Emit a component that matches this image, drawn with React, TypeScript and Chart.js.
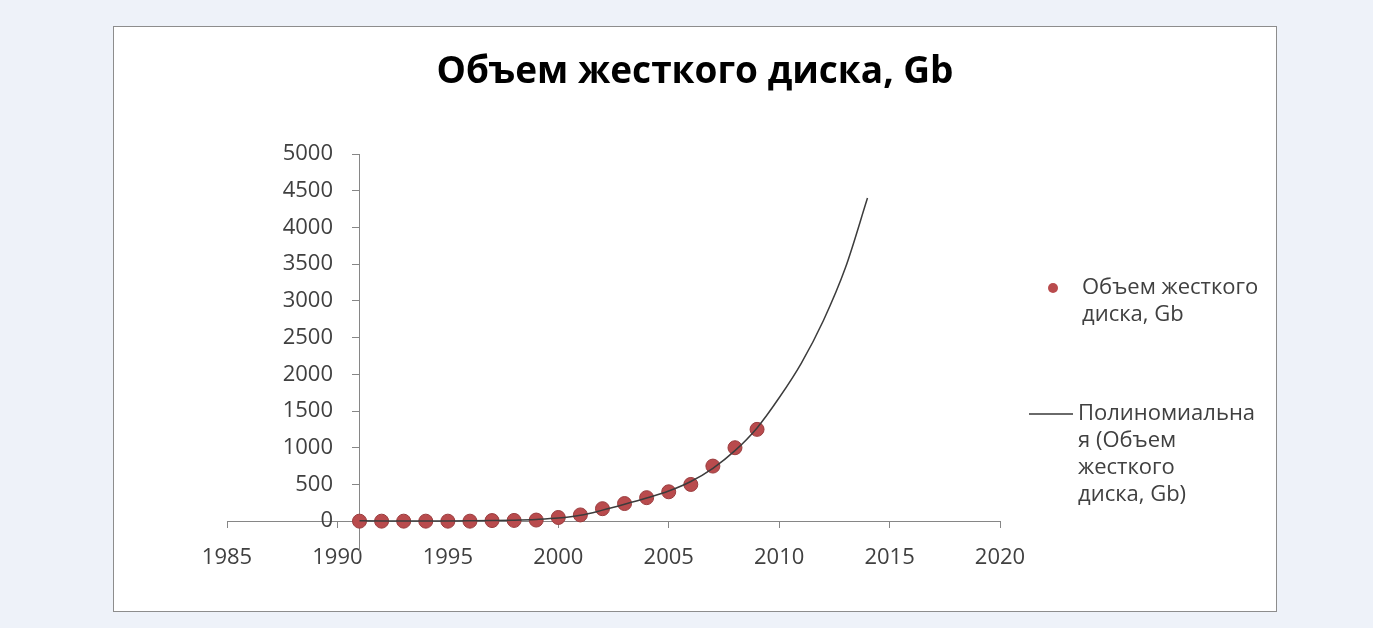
import React, { useEffect, useRef } from "react";
import { Chart, registerables } from "chart.js";

Chart.register(...registerables);

// ---- data ----
const years = [1991, 1992, 1993, 1994, 1995, 1996, 1997, 1998, 1999, 2000, 2001, 2002, 2003, 2004, 2005, 2006, 2007, 2008, 2009];
const capacityGb = [0, 0, 0, 0, 0, 0, 8, 10, 15, 50, 85, 170, 240, 320, 400, 500, 750, 1000, 1250];

const trendYears = [1991, 1992, 1993, 1994, 1995, 1996, 1997, 1998, 1999, 2000, 2001, 2002, 2003, 2004, 2005, 2006, 2007, 2008, 2009, 2010, 2011, 2012, 2013, 2014];
const trendValues = [4, 3, 2, 2, 3, 5, 8, 14, 24, 42, 80, 150, 230, 315, 410, 540, 720, 960, 1270, 1680, 2150, 2730, 3450, 4400];

const xTicks = [1985, 1990, 1995, 2000, 2005, 2010, 2015, 2020];
const yTicks = [0, 500, 1000, 1500, 2000, 2500, 3000, 3500, 4000, 4500, 5000];

const xMin = 1985;
const xMax = 2020;
const yMin = -420;
const yMax = 5000;
const yAxisCrossAt = 1991;
const yLabelAnchorAt = 1989.8;

const chartTitle = "Объем жесткого диска, Gb";
const seriesLegendLines = ["Объем жесткого", "диска, Gb"];
const trendLegendLines = ["Полиномиальна", "я (Объем", "жесткого", "диска, Gb)"];

const FONT = '"Open Sans", "Noto Sans", sans-serif';
const TEXT = "#404040";
const AXIS = "#868686";
const POINT_FILL = "#b94b4d";
const POINT_EDGE = "#9a3c3e";
const TREND = "#3c3c3c";

const decorPlugin = {
  id: "excelDecor",
  afterDraw(chart: any) {
    const ctx = chart.ctx as CanvasRenderingContext2D;
    ctx.save();
    // title
    ctx.font = `bold 37px ${FONT}`;
    ctx.fillStyle = "#000000";
    ctx.textAlign = "center";
    ctx.textBaseline = "middle";
    ctx.fillText(chartTitle, chart.width / 2, 45);
    // series legend entry
    ctx.beginPath();
    ctx.arc(939, 261, 5, 0, Math.PI * 2);
    ctx.fillStyle = POINT_FILL;
    ctx.fill();
    ctx.font = `22px ${FONT}`;
    ctx.fillStyle = TEXT;
    ctx.textAlign = "left";
    seriesLegendLines.forEach((t, i) => ctx.fillText(t, 968, 261 + i * 27));
    // trend legend entry
    ctx.beginPath();
    ctx.moveTo(915, 387);
    ctx.lineTo(959, 387);
    ctx.strokeStyle = "#6a6a6a";
    ctx.lineWidth = 2;
    ctx.stroke();
    trendLegendLines.forEach((t, i) => ctx.fillText(t, 964, 387 + i * 27));
    ctx.restore();
  },
};

const setYTicks = (s: any) => {
  s.ticks = yTicks.map((value) => ({ value }));
};

export default function App() {
  const ref = useRef<HTMLCanvasElement | null>(null);

  useEffect(() => {
    if (!ref.current) return;
    const chart = new Chart(ref.current, {
      type: "scatter",
      data: {
        datasets: [
          {
            label: "Полиномиальная (Объем жесткого диска, Gb)",
            data: trendYears.map((x, i) => ({ x, y: trendValues[i] })),
            showLine: true,
            pointRadius: 0,
            borderColor: TREND,
            borderWidth: 1.5,
            cubicInterpolationMode: "monotone",
            order: 0,
            yAxisID: "y",
          },
          {
            label: "Объем жесткого диска, Gb",
            data: years.map((x, i) => ({ x, y: capacityGb[i] })),
            pointRadius: 7,
            pointBackgroundColor: POINT_FILL,
            pointBorderColor: POINT_EDGE,
            pointBorderWidth: 1,
            showLine: false,
            order: 1,
            yAxisID: "y",
          },
        ],
      },
      options: {
        animation: false,
        responsive: false,
        maintainAspectRatio: false,
        layout: { padding: { left: 113, right: 276, top: 127, bottom: 59 } },
        plugins: {
          legend: { display: false },
          tooltip: { enabled: false },
          title: { display: false },
        },
        scales: {
          x: {
            type: "linear",
            position: { y: 0 } as any,
            min: xMin,
            max: xMax,
            afterBuildTicks: (s: any) => {
              s.ticks = xTicks.map((value) => ({ value }));
            },
            ticks: {
              padding: 17,
              color: TEXT,
              font: { family: FONT, size: 22 },
              callback: (v: any) => String(v),
            },
            grid: { drawOnChartArea: false, drawTicks: true, tickLength: 6, color: AXIS },
            border: { color: AXIS, width: 1 },
            afterFit: (s: any) => {
              s.height = 0;
            },
          },
          y: {
            type: "linear",
            position: { x: yAxisCrossAt } as any,
            min: yMin,
            max: yMax,
            afterBuildTicks: setYTicks,
            ticks: { display: false },
            grid: { drawOnChartArea: false, drawTicks: true, tickLength: 7, color: AXIS },
            border: { color: AXIS, width: 1 },
            afterFit: (s: any) => {
              s.width = 0;
            },
          },
          yLabels: {
            type: "linear",
            position: { x: yLabelAnchorAt } as any,
            min: yMin,
            max: yMax,
            afterBuildTicks: setYTicks,
            ticks: {
              color: TEXT,
              font: { family: FONT, size: 22 },
              callback: (v: any) => String(v),
            },
            grid: { display: false },
            border: { display: false },
            afterFit: (s: any) => {
              s.width = 0;
            },
          },
        },
      },
      plugins: [decorPlugin],
    });
    return () => chart.destroy();
  }, []);

  return (
    <div style={{ position: "fixed", left: 0, top: 0, width: 1373, height: 628, background: "#eef2f9", overflow: "hidden" }}>
      <div
        style={{
          position: "absolute",
          left: 113,
          top: 26,
          width: 1162,
          height: 584,
          background: "#ffffff",
          border: "1px solid #8d8d8d",
        }}
      >
        <canvas ref={ref} width={1162} height={584} style={{ display: "block", width: 1162, height: 584 }} />
      </div>
    </div>
  );
}
